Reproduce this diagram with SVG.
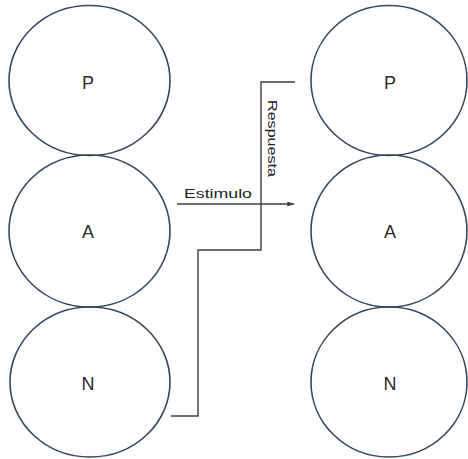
<svg xmlns="http://www.w3.org/2000/svg" width="468" height="459" viewBox="0 0 468 459">
  <style>
    .ring { fill: none; stroke: #34475e; stroke-width: 1.6; }
    .lbl { font-family: "Liberation Sans", Arial, sans-serif; font-size: 18px; fill: #2a2a2a; text-anchor: middle; }
    .wire { fill: none; stroke: #3a3f48; stroke-width: 1.4; }
    .cap { font-family: "Liberation Sans", Arial, sans-serif; font-size: 13px; fill: #222; }
  </style>
  <defs>
    <marker id="arrow" viewBox="0 0 8 6" refX="8" refY="3" markerWidth="7" markerHeight="5" orient="auto" markerUnits="userSpaceOnUse">
      <path d="M0,0 L8,3 L0,6 z" fill="#3a3f48"/>
    </marker>
  </defs>
  <rect width="468" height="459" fill="#ffffff"/>

  <!-- left column -->
  <g id="left-P"><ellipse class="ring" cx="89.5" cy="80.5" rx="80.5" ry="75"/><text class="lbl" x="88" y="89">P</text></g>
  <g id="left-A"><ellipse class="ring" cx="89.5" cy="231" rx="80.5" ry="76"/><text class="lbl" x="88" y="238">A</text></g>
  <g id="left-N"><ellipse class="ring" cx="90" cy="382" rx="80" ry="75"/><text class="lbl" x="88" y="390">N</text></g>

  <!-- right column -->
  <g id="right-P"><ellipse class="ring" cx="389" cy="80.5" rx="78" ry="75"/><text class="lbl" x="390" y="89">P</text></g>
  <g id="right-A"><ellipse class="ring" cx="389" cy="231" rx="78" ry="76"/><text class="lbl" x="390" y="238">A</text></g>
  <g id="right-N"><ellipse class="ring" cx="389" cy="382" rx="78" ry="75"/><text class="lbl" x="390" y="390">N</text></g>

  <!-- connectors -->
  <g id="connectors">
    <path class="wire" d="M177,204 H294" marker-end="url(#arrow)"/>
    <path class="wire" d="M171,416 H198 V250 H261 V82 H295"/>
    <text class="cap" x="184" y="198" textLength="68" lengthAdjust="spacingAndGlyphs">Estimulo</text>
    <text class="cap" transform="translate(268,100) rotate(90)" x="0" y="0" textLength="77" lengthAdjust="spacingAndGlyphs">Respuesta</text>
  </g>
</svg>
